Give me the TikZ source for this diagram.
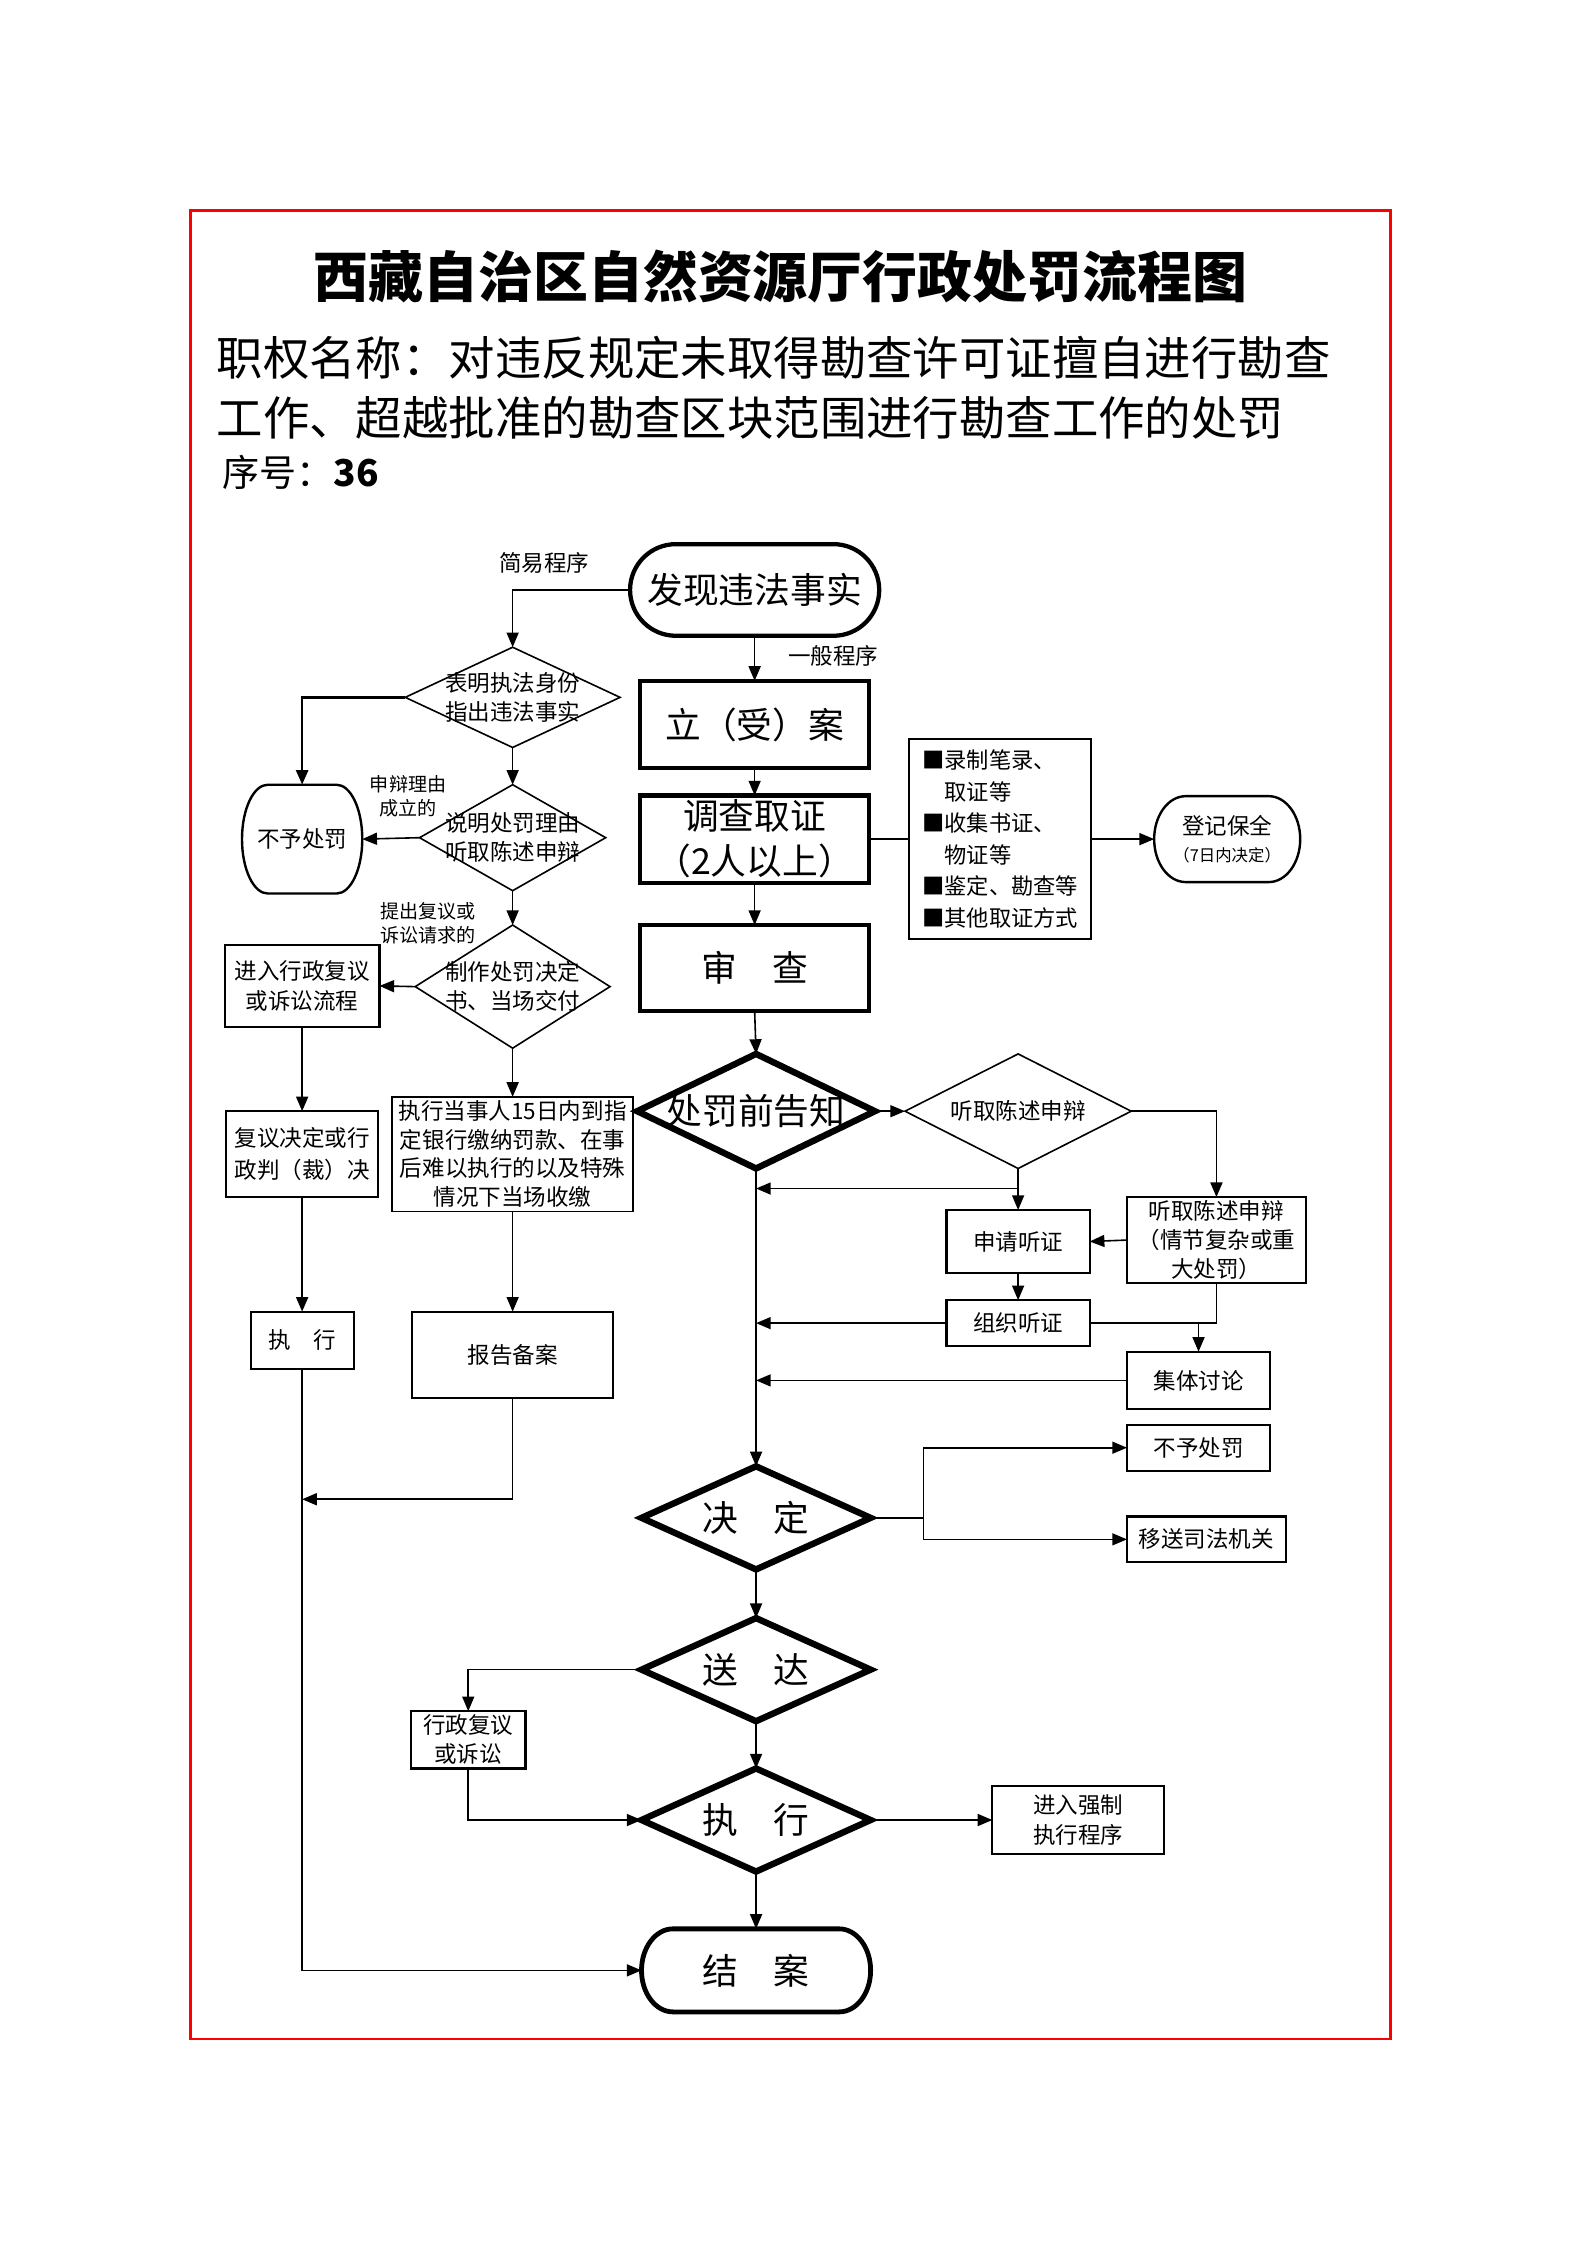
\documentclass[tikz,border=0pt]{standalone}
\usepackage{fontspec}
\setmainfont{Noto Sans CJK SC}
\usetikzlibrary{shapes.geometric,arrows.meta}
\def\myu{0.5369pt}
\newcommand\mystad[4][line width=1.6pt]{%
 \draw[#1] ([xshift=#3*\myu]#2.north west) -- ([xshift=-#3*\myu]#2.north east)
   arc[start angle=90,end angle=-90,x radius=#3*\myu,y radius=#4*\myu]
   -- ([xshift=#3*\myu]#2.south west)
   arc[start angle=270,end angle=90,x radius=#3*\myu,y radius=#4*\myu] -- cycle;}
\begin{document}
\begin{tikzpicture}[x=\myu,y=-\myu,
  sz/.style 2 args={minimum width=#1*\myu,minimum height=#2*\myu},
  base/.style={inner sep=0pt,outer sep=0pt,align=center},
  fS/.style={font=\fontsize{8.45}{10.9}\selectfont},
  fT/.style={font=\fontsize{7.15}{9.1}\selectfont},
  fL/.style={font=\fontsize{13.4}{16.9}\selectfont},
  tbox/.style={base,draw,line width=1.6pt,fL},
  sbox/.style={base,draw,line width=0.8pt,fS},
  tdia/.style={base,draw,shape=diamond,line width=2.4pt},
  sdia/.style={base,draw,shape=diamond,line width=0.6pt},
  lbl/.style={inner sep=0pt,align=center},
  arr/.style={line width=0.6pt,-{Triangle[length=5.5pt,width=4.5pt]}},
  ln/.style={line width=0.6pt},
]
\useasboundingbox (0,0) rectangle (1108.3,1567.8);
\draw[red,line width=0.8pt] (133,147) rectangle (971,1424);

% header
\node[inner sep=0,font=\bfseries\fontsize{20.6}{25}\selectfont] (title) at (545,193) {西藏自治区自然资源厅行政处罚流程图};
\node[anchor=west,inner sep=0,font=\fontsize{17.4}{20}\selectfont] (sub1) at (151,250) {职权名称：对违反规定未取得勘查许可证擅自进行勘查};
\node[anchor=west,inner sep=0,font=\fontsize{17.4}{20}\selectfont] (sub2) at (151,292) {工作、超越批准的勘查区块范围进行勘查工作的处罚};
\node[anchor=west,inner sep=0,font=\fontsize{13.9}{17}\selectfont] (sn) at (155,330) {序号：\textbf{36}};

% centre column
\node[base,sz={174}{64},fL] (fx) at (527,412) {发现违法事实};
\mystad{fx}{32}{32}
\node[tbox,sz={160}{61}] (la) at (527,506) {立（受）案};
\node[tbox,sz={160}{61}] (dc) at (527,586) {调查取证\\（2人以上）};
\node[tbox,sz={160}{60}] (sc) at (527,676) {审　查};
\node[base,draw,line width=0.7pt,sz={127}{140},align=left,font=\fontsize{8.35}{11.8}\selectfont] (lb) at (698.5,586)
  {■录制笔录、\\\phantom{■}取证等\\■收集书证、\\\phantom{■}物证等\\■鉴定、勘查等\\■其他取证方式};
\node[base,sz={102}{60},fS] (dj) at (857,586) {登记保全\\[-1pt]{\fontsize{6.15}{8}\selectfont （7日内决定）}};
\mystad[line width=0.9pt]{dj}{22}{30}

\node[lbl,fS] (jy) at (380,393) {简易程序};
\node[lbl,fS] (yb) at (582,458) {一般程序};

% left column
\node[sdia,sz={150}{70},label={[name=d1t,lbl,fS]center:{表明执法身份\\指出违法事实}}] (d1) at (358,487) {};
\node[base,sz={84}{76},fS] (bp) at (211,586) {不予处罚};
\mystad[line width=0.9pt]{bp}{18}{38}
\node[sdia,sz={130}{74},label={[name=d2t,lbl,fS]center:{说明处罚理由\\听取陈述申辩}}] (d2) at (358,585) {};
\node[lbl,fT] (sb) at (285,556) {申辩理由\\成立的};
\node[sdia,sz={136}{86},label={[name=d3t,lbl,fS]center:{制作处罚决定\\书、当场交付}}] (d3) at (358,689) {};
\node[lbl,fT] (tc) at (299,645) {提出复议或\\诉讼请求的};
\node[sbox,sz={108}{57}] (jr) at (211,688.5) {进入行政复议\\或诉讼流程};
\node[sbox,sz={106}{60},font=\fontsize{8.45}{11.8}\selectfont] (fy) at (211,806) {复议决定或行\\政判（裁）决};
\node[sbox,sz={72}{40}] (zx) at (211,936) {执　行};
\node[sbox,line width=0.7pt,sz={168}{80},font=\fontsize{8.45}{10.7}\selectfont] (ds) at (358,806) {执行当事人15日内到指\\定银行缴纳罚款、在事\\后难以执行的以及特殊\\情况下当场收缴};
\node[sbox,line width=0.7pt,sz={140}{60}] (bg) at (358,946) {报告备案};

% right part
\node[tdia,sz={166}{80},label={[name=D1t,lbl,fL]center:{处罚前告知}}] (D1) at (528,776) {};
\node[sdia,sz={158}{80},label={[name=d4t,lbl,fS]center:{听取陈述申辩}}] (d4) at (711,776) {};
\node[sbox,sz={125}{60}] (tq) at (849.5,866) {听取陈述申辩\\（情节复杂或重\\大处罚）};
\node[sbox,sz={100}{44}] (sq) at (711,867) {申请听证};
\node[sbox,sz={100}{32}] (zz) at (711,924) {组织听证};
\node[sbox,sz={100}{40}] (jt) at (837,964) {集体讨论};
\node[tdia,sz={160}{72},label={[name=D2t,lbl,fL]center:{决　定}}] (D2) at (528,1060) {};
\node[sbox,sz={100}{32}] (by) at (837,1011) {不予处罚};
\node[sbox,sz={111}{32}] (ys) at (842.5,1075) {移送司法机关};
\node[tdia,sz={160}{72},label={[name=D3t,lbl,fL]center:{送　达}}] (D3) at (528,1166) {};
\node[sbox,sz={80}{40}] (xz) at (327,1215) {行政复议\\或诉讼};
\node[tdia,sz={160}{72},label={[name=D4t,lbl,fL]center:{执　行}}] (D4) at (528,1271) {};
\node[sbox,sz={120}{48}] (qz) at (753,1271) {进入强制\\执行程序};
\node[base,sz={160}{58},fL] (ja) at (528,1376) {结　案};
\mystad[line width=1.8pt]{ja}{22}{29}

\coordinate (j1) at (211,1047);
\coordinate (c1) at (711,830);
\coordinate (c2) at (645,1060);

% connectors
\draw[arr] (fx.west) -| (d1.north);
\draw[arr] (fx.south) -- (la.north);
\draw[arr] (la.south) -- (dc.north);
\draw[arr] (dc.south) -- (sc.north);
\draw[ln] (dc.east) -- (lb.west);
\draw[arr] (lb.east) -- (dj.west);
\draw[arr,line width=1pt] (d1.west) -| (bp.north);
\draw[arr] (d1.south) -- (d2.north);
\draw[arr] (d2.west) -- (bp.east);
\draw[arr] (d2.south) -- (d3.north);
\draw[arr] (d3.west) -- (jr.east);
\draw[arr,line width=0.8pt] (jr.south) -- (fy.north);
\draw[arr,line width=0.8pt] (fy.south) -- (zx.north);
\draw[arr] (zx.south) |- (ja.west);
\draw[arr] (d3.south) -- (ds.north);
\draw[arr] (ds.south) -- (bg.north);
\draw[arr] (bg.south) |- (j1);

\draw[arr] (sc.south) -- (D1.north);
\draw[arr] (D1.east) -- (d4.west);
\draw[arr] (d4.east) -| (tq.north);
\draw[arr] (d4.south) -- (sq.north);
\draw[arr] (c1) -- (c1 -| D1.south);
\draw[arr] (tq.west) -- (sq.east);
\draw[arr] (sq.south) -- (zz.north);
\draw[arr] (zz.west) -- (zz.west -| D1.south);
\draw[ln] (zz.east) -| (tq.south);
\draw[arr] (jt.north |- zz.east) -- (jt.north);
\draw[arr] (jt.west) -- (jt.west -| D1.south);
\draw[arr] (D1.south) -- (D2.north);
\draw[ln] (D2.east) -- (c2);
\draw[arr] (c2) |- (by.west);
\draw[arr] (c2) |- (ys.west);
\draw[arr] (D2.south) -- (D3.north);
\draw[arr] (D3.west) -| (xz.north);
\draw[arr] (xz.south) |- (D4.west);
\draw[arr] (D3.south) -- (D4.north);
\draw[arr] (D4.east) -- (qz.west);
\draw[arr] (D4.south) -- (ja.north);
\end{tikzpicture}
\end{document}
